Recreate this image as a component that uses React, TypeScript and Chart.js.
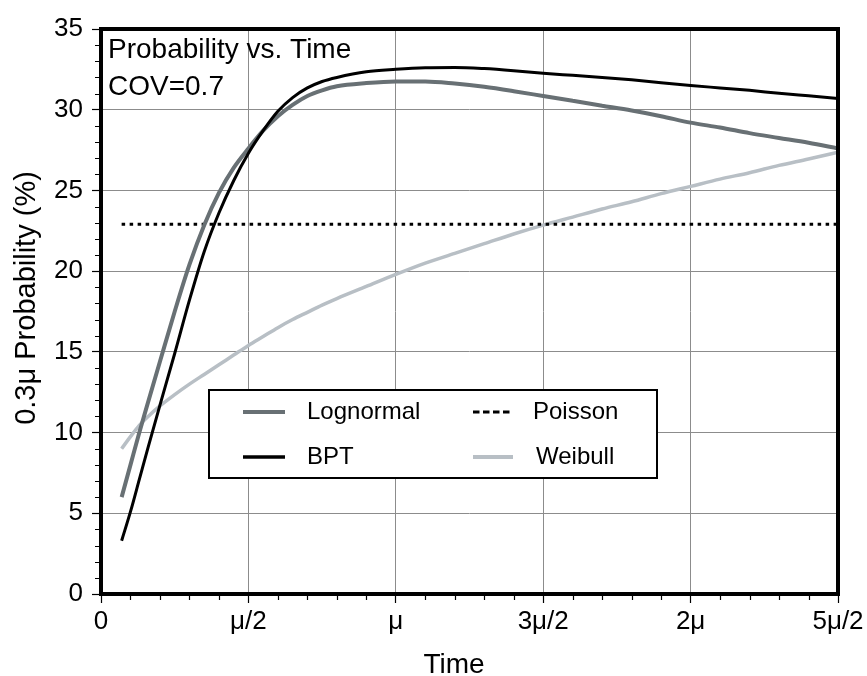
import React, { useEffect, useRef } from "react";
import { Chart, registerables } from "chart.js";

Chart.register(...registerables);

// ---- data ----
const times = [0.07, 0.1, 0.13, 0.16, 0.2, 0.25, 0.3, 0.35, 0.4, 0.45, 0.5, 0.55, 0.6, 0.65, 0.7, 0.75, 0.8, 0.9, 1.0, 1.1, 1.2, 1.3, 1.4, 1.5, 1.6, 1.7, 1.8, 1.9, 2.0, 2.1, 2.2, 2.3, 2.4, 2.5];
const lognormal = [6.0, 8.0, 10.0, 11.9, 14.4, 17.5, 20.4, 22.85, 24.85, 26.4, 27.6, 28.7, 29.6, 30.3, 30.85, 31.2, 31.45, 31.65, 31.75, 31.75, 31.62, 31.42, 31.15, 30.85, 30.55, 30.25, 29.95, 29.6, 29.2, 28.9, 28.55, 28.25, 27.95, 27.6];
const bpt = [3.3, 5.1, 7.1, 9.1, 11.7, 14.9, 18.2, 21.2, 23.6, 25.6, 27.3, 28.7, 29.9, 30.75, 31.35, 31.75, 32.0, 32.35, 32.5, 32.6, 32.62, 32.55, 32.42, 32.26, 32.13, 32.0, 31.85, 31.67, 31.5, 31.35, 31.2, 31.02, 30.86, 30.7];
const weibull = [9.0, 9.75, 10.45, 11.0, 11.65, 12.35, 13.0, 13.6, 14.2, 14.8, 15.4, 15.95, 16.5, 17.0, 17.45, 17.9, 18.3, 19.05, 19.8, 20.5, 21.1, 21.7, 22.3, 22.85, 23.35, 23.85, 24.3, 24.8, 25.25, 25.7, 26.1, 26.55, 26.95, 27.37];
const poissonTimes = [0.07, 2.5];
const poisson = [22.9, 22.9];

const xTickLabels = ["0", "\u03bc/2", "\u03bc", "3\u03bc/2", "2\u03bc", "5\u03bc/2"];
const yTickLabels = ["0", "5", "10", "15", "20", "25", "30", "35"];

const seriesNames = ["Lognormal", "BPT", "Poisson", "Weibull"];
const titleLines = ["Probability vs. Time", "COV=0.7"];
const xTitle = "Time";
const yTitle = "0.3\u03bc Probability (%)";

const FONT = "'Liberation Sans', Arial, Helvetica, sans-serif";
const C_LOG = "#687074";
const C_BPT = "#000000";
const C_WEI = "#b8bfc5";
const C_POI = "#000000";

const toPoints = (xs: number[], ys: number[]) => xs.map((x, i) => ({ x, y: ys[i] }));

const overlayPlugin = {
  id: "overlay",
  afterDatasetsDraw(chart: any) {
    const { ctx, chartArea: a, scales } = chart;
    const xs = scales.x;
    const ys = scales.y;
    ctx.save();

    // frame
    ctx.strokeStyle = "#000";
    ctx.lineWidth = 4;
    ctx.strokeRect(a.left, a.top, a.right - a.left, a.bottom - a.top);

    // minor ticks
    ctx.lineWidth = 1.2;
    ctx.beginPath();
    for (let i = 1; i < 25; i++) {
      if (i % 5 === 0) continue;
      const px = Math.round(xs.getPixelForValue(i / 10)) + 0.5;
      ctx.moveTo(px, a.bottom);
      ctx.lineTo(px, a.bottom + 6);
    }
    for (let i = 1; i < 35; i++) {
      if (i % 5 === 0) continue;
      const py = Math.round(ys.getPixelForValue(i)) + 0.5;
      ctx.moveTo(a.left, py);
      ctx.lineTo(a.left - 6, py);
    }
    ctx.stroke();

    // in-plot title
    ctx.fillStyle = "#000";
    ctx.font = `28px ${FONT}`;
    ctx.textAlign = "left";
    ctx.textBaseline = "alphabetic";
    ctx.fillText(titleLines[0], 108, 58);
    ctx.fillText(titleLines[1], 108, 95);

    // legend box
    const lx = 209, ly = 390, lw = 448, lh = 88;
    ctx.fillStyle = "#fff";
    ctx.fillRect(lx, ly, lw, lh);
    ctx.strokeStyle = "#000";
    ctx.lineWidth = 2;
    ctx.strokeRect(lx, ly, lw, lh);

    const row1 = 412, row2 = 457;
    const drawLine = (x1: number, x2: number, y: number, color: string, w: number, dash: number[]) => {
      ctx.save();
      ctx.strokeStyle = color;
      ctx.lineWidth = w;
      ctx.setLineDash(dash);
      ctx.beginPath();
      ctx.moveTo(x1, y);
      ctx.lineTo(x2, y);
      ctx.stroke();
      ctx.restore();
    };
    drawLine(243, 285, row1, C_LOG, 4, []);
    drawLine(243, 285, row2, C_BPT, 3.5, []);
    drawLine(473, 513, row1, C_POI, 3, [6.5, 3.5]);
    drawLine(473, 513, row2, C_WEI, 4, []);

    ctx.fillStyle = "#000";
    ctx.font = `24px ${FONT}`;
    ctx.textBaseline = "middle";
    ctx.fillText(seriesNames[0], 307, row1);
    ctx.fillText(seriesNames[1], 307, row2);
    ctx.fillText(seriesNames[2], 533, row1);
    ctx.fillText(seriesNames[3], 536, row2);

    // axis titles
    ctx.font = `28px ${FONT}`;
    ctx.textAlign = "center";
    ctx.textBaseline = "alphabetic";
    ctx.fillText(xTitle, 454, 673);
    ctx.save();
    ctx.translate(35, 298);
    ctx.rotate(-Math.PI / 2);
    ctx.font = `29px ${FONT}`;
    ctx.fillText(yTitle, 0, 0);
    ctx.restore();

    ctx.restore();
  },
};

export default function App() {
  const canvasRef = useRef<HTMLCanvasElement | null>(null);

  useEffect(() => {
    if (!canvasRef.current) return;
    const chart = new Chart(canvasRef.current, {
      type: "line",
      data: {
        datasets: [
          {
            label: seriesNames[1],
            data: toPoints(times, bpt),
            borderColor: C_BPT,
            borderWidth: 3,
            cubicInterpolationMode: "monotone",
            pointRadius: 0,
            fill: false,
          },
          {
            label: seriesNames[0],
            data: toPoints(times, lognormal),
            borderColor: C_LOG,
            borderWidth: 4,
            cubicInterpolationMode: "monotone",
            pointRadius: 0,
            fill: false,
          },
          {
            label: seriesNames[2],
            data: toPoints(poissonTimes, poisson),
            borderColor: C_POI,
            borderWidth: 3,
            borderDash: [3.5, 4.5],
            pointRadius: 0,
            fill: false,
          },
          {
            label: seriesNames[3],
            data: toPoints(times, weibull),
            borderColor: C_WEI,
            borderWidth: 3.5,
            cubicInterpolationMode: "monotone",
            pointRadius: 0,
            fill: false,
          },
        ],
      },
      options: {
        animation: false,
        responsive: true,
        maintainAspectRatio: false,
        layout: { padding: { top: 29, right: 29, left: 0, bottom: 0 } },
        plugins: { legend: { display: false }, tooltip: { enabled: false }, title: { display: false } },
        elements: { point: { radius: 0 } },
        scales: {
          x: {
            type: "linear",
            min: 0,
            max: 2.5,
            ticks: {
              stepSize: 0.5,
              autoSkip: false,
              maxRotation: 0,
              padding: 3,
              color: "#000",
              font: { family: FONT, size: 26 },
              callback: (_v: any, i: number) => xTickLabels[i],
            },
            grid: { color: "#8c8c8c", lineWidth: 1, tickColor: "#000", tickLength: 9, tickWidth: 1.2 },
            border: { display: false },
            afterFit: (s: any) => {
              s.height = 82;
            },
          },
          y: {
            min: 0,
            max: 35,
            ticks: {
              stepSize: 5,
              padding: 9,
              color: "#000",
              font: { family: FONT, size: 26 },
              callback: (_v: any, i: number) => yTickLabels[i],
            },
            grid: { color: "#8c8c8c", lineWidth: 1, tickColor: "#000", tickLength: 9, tickWidth: 1.2 },
            border: { display: false },
            afterFit: (s: any) => {
              s.width = 101;
            },
          },
        },
      },
      plugins: [overlayPlugin],
    } as any);
    return () => chart.destroy();
  }, []);

  return (
    <div style={{ position: "fixed", left: 0, top: 0, width: "867px", height: "676px", background: "#fff" }}>
      <canvas ref={canvasRef} />
    </div>
  );
}
